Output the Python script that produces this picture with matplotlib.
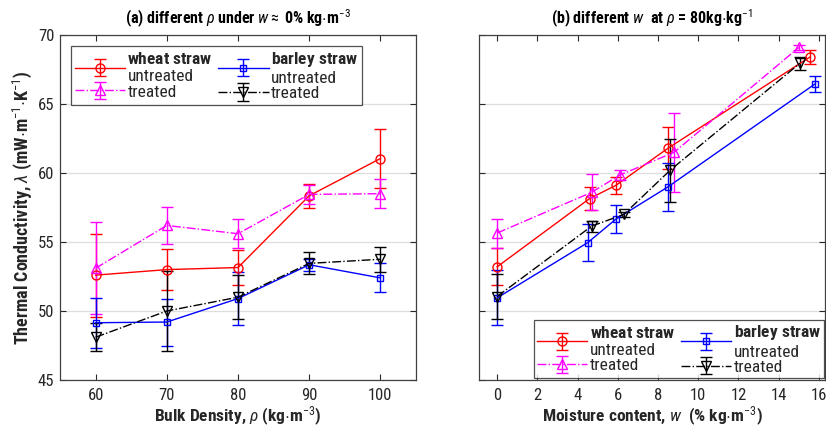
import matplotlib
matplotlib.use("Agg")
import matplotlib.pyplot as plt
from matplotlib import font_manager as fm


def has_bold(name):
    for f in fm.fontManager.ttflist:
        if f.name == name and f.style == 'normal':
            w = f.weight
            if isinstance(w, str):
                if 'bold' in w:
                    return True
            elif w >= 700:
                return True
    return False


base = "Liberation Sans"
for cand in ["Liberation Sans Narrow", "Arial Narrow", "Archivo Narrow", "Roboto Condensed",
             "PT Sans Narrow", "Open Sans Condensed", "Encode Sans Condensed"]:
    if has_bold(cand):
        base = cand
        break
plt.rcParams['font.family'] = [base, 'DejaVu Sans']
plt.rcParams['mathtext.fontset'] = 'custom'
plt.rcParams['mathtext.rm'] = base
plt.rcParams['mathtext.it'] = base + ':italic'
plt.rcParams['mathtext.bf'] = base + ':bold'
plt.rcParams['mathtext.sf'] = base

# ---------------- data: panel (a) ----------------
density = [60, 70, 80, 90, 100]
wheat_untr_a = [52.6, 53.0, 53.15, 58.35, 61.05]
wheat_untr_a_err = [3.0, 1.5, 1.3, 0.85, 2.15]
wheat_tr_a = [53.1, 56.2, 55.6, 58.45, 58.5]
wheat_tr_a_err = [3.35, 1.35, 1.05, 0.7, 1.05]
barley_untr_a = [49.15, 49.2, 50.9, 53.35, 52.4]
barley_untr_a_err = [1.8, 1.7, 1.9, 0.45, 1.05]
barley_tr_a = [48.1, 50.0, 51.0, 53.45, 53.75]
barley_tr_a_err = [1.0, 2.9, 1.6, 0.8, 0.9]

# ---------------- data: panel (b) ----------------
w_wheat_untr = [0.0, 4.6, 5.9, 8.5, 15.55]
wheat_untr_b = [53.2, 58.15, 59.1, 61.8, 68.4]
wheat_untr_b_err = [1.35, 0.85, 0.6, 1.5, 0.5]
w_wheat_tr = [0.0, 4.7, 6.1, 8.8, 15.0]
wheat_tr_b = [55.65, 58.6, 59.85, 61.5, 69.1]
wheat_tr_b_err = [1.05, 1.3, 0.35, 2.85, 0.2]
w_barley_untr = [0.0, 4.5, 5.9, 8.5, 15.8]
barley_untr_b = [50.95, 54.95, 56.65, 59.0, 66.45]
barley_untr_b_err = [2.0, 1.35, 1.0, 1.75, 0.6]
w_barley_tr = [0.0, 4.7, 6.3, 8.6, 15.05]
barley_tr_b = [51.05, 56.15, 57.0, 60.2, 67.95]
barley_tr_b_err = [1.6, 0.4, 0.2, 2.3, 0.45]

labels = [r"$\bf{wheat\ straw}$" + "\nuntreated", "treated",
          r"$\bf{barley\ straw}$" + "\nuntreated", "treated"]

styles = [dict(color='#ff0000', ls='-', marker='o', ms=6.5),
          dict(color='#ff00ff', ls='-.', marker='^', ms=7),
          dict(color='#0000ff', ls='-', marker='s', ms=5),
          dict(color='#000000', ls='-.', marker='v', ms=7)]

TXT = '#262626'

fig = plt.figure(figsize=(8.26, 4.29), dpi=100)
axa = fig.add_axes([60/826, 49/429, 356/826, 345/429])
axb = fig.add_axes([479/826, 49/429, 346/826, 345/429])


def plot_series(ax, xs, ys, es):
    hs = []
    for x, y, e, st in zip(xs, ys, es, styles):
        h = ax.errorbar(x, y, yerr=e, color=st['color'], ls=st['ls'], marker=st['marker'],
                        ms=st['ms'], mfc='none', mec=st['color'], mew=1.0, lw=1.0,
                        elinewidth=1.0, capsize=4, capthick=1.0)
        hs.append(h)
    return hs


ha = plot_series(axa, [density] * 4,
                 [wheat_untr_a, wheat_tr_a, barley_untr_a, barley_tr_a],
                 [wheat_untr_a_err, wheat_tr_a_err, barley_untr_a_err, barley_tr_a_err])
hb = plot_series(axb, [w_wheat_untr, w_wheat_tr, w_barley_untr, w_barley_tr],
                 [wheat_untr_b, wheat_tr_b, barley_untr_b, barley_tr_b],
                 [wheat_untr_b_err, wheat_tr_b_err, barley_untr_b_err, barley_tr_b_err])

for ax in (axa, axb):
    ax.set_ylim(45, 70)
    ax.set_yticks([45, 50, 55, 60, 65, 70])
    ax.grid(axis='y', color='#dedede', lw=0.9)
    ax.set_axisbelow(True)
    ax.tick_params(direction='in', top=True, right=True, length=4, width=0.8,
                   colors=TXT, labelsize=12, labelcolor=TXT)
    for s in ax.spines.values():
        s.set_color('#404040')
        s.set_linewidth(0.9)

axa.set_xlim(55, 105)
axa.set_xticks([60, 70, 80, 90, 100])
axb.set_xlim(-0.9, 16.3)
axb.set_xticks(range(0, 17, 2))
axb.set_yticklabels([])
axa.tick_params(axis='x', pad=6)
axb.tick_params(axis='x', pad=6)
axa.tick_params(axis='y', pad=4)

axa.set_title(r"(a) different $\rho$ under $\mathbf{\mathit{w}} \approx$ 0% kg$\cdot$m$^{-3}$",
              fontsize=11.5, fontweight='bold', pad=8)
axb.set_title(r"(b) different $\mathbf{\mathit{w}}$  at $\rho$ = 80kg$\cdot$kg$^{-1}$",
              fontsize=11.5, fontweight='bold', pad=8)
axa.set_xlabel(r"Bulk Density, $\rho$ (kg$\cdot$m$^{-3}$)", fontsize=12.5,
               fontweight='bold', color=TXT, labelpad=1)
axb.set_xlabel(r"Moisture content, $\mathbf{\mathit{w}}$  (% kg$\cdot$m$^{-3}$)", fontsize=12.5,
               fontweight='bold', color=TXT, labelpad=1)
axa.set_ylabel(r"Thermal Conductivity, $\lambda$ (mW$\cdot$m$^{-1}$$\cdot$K$^{-1}$)",
               fontsize=13, fontweight='bold', color=TXT, labelpad=3)

legkw = dict(ncol=2, fontsize=12.5, frameon=True, fancybox=False, edgecolor='#262626',
             handlelength=2.9, columnspacing=0.3, handletextpad=0.15, labelspacing=0.0,
             borderpad=0.2, borderaxespad=0)
la = axa.legend(ha, labels, loc='upper left', bbox_to_anchor=(0.031, 0.968), **legkw)
lb = axb.legend(hb, labels, loc='lower right', bbox_to_anchor=(0.998, 0.005), **legkw)
for lg in (la, lb):
    lg.get_frame().set_linewidth(0.9)
    for t in lg.get_texts():
        t.set_color(TXT)

fig.savefig("out.png", dpi=100)
